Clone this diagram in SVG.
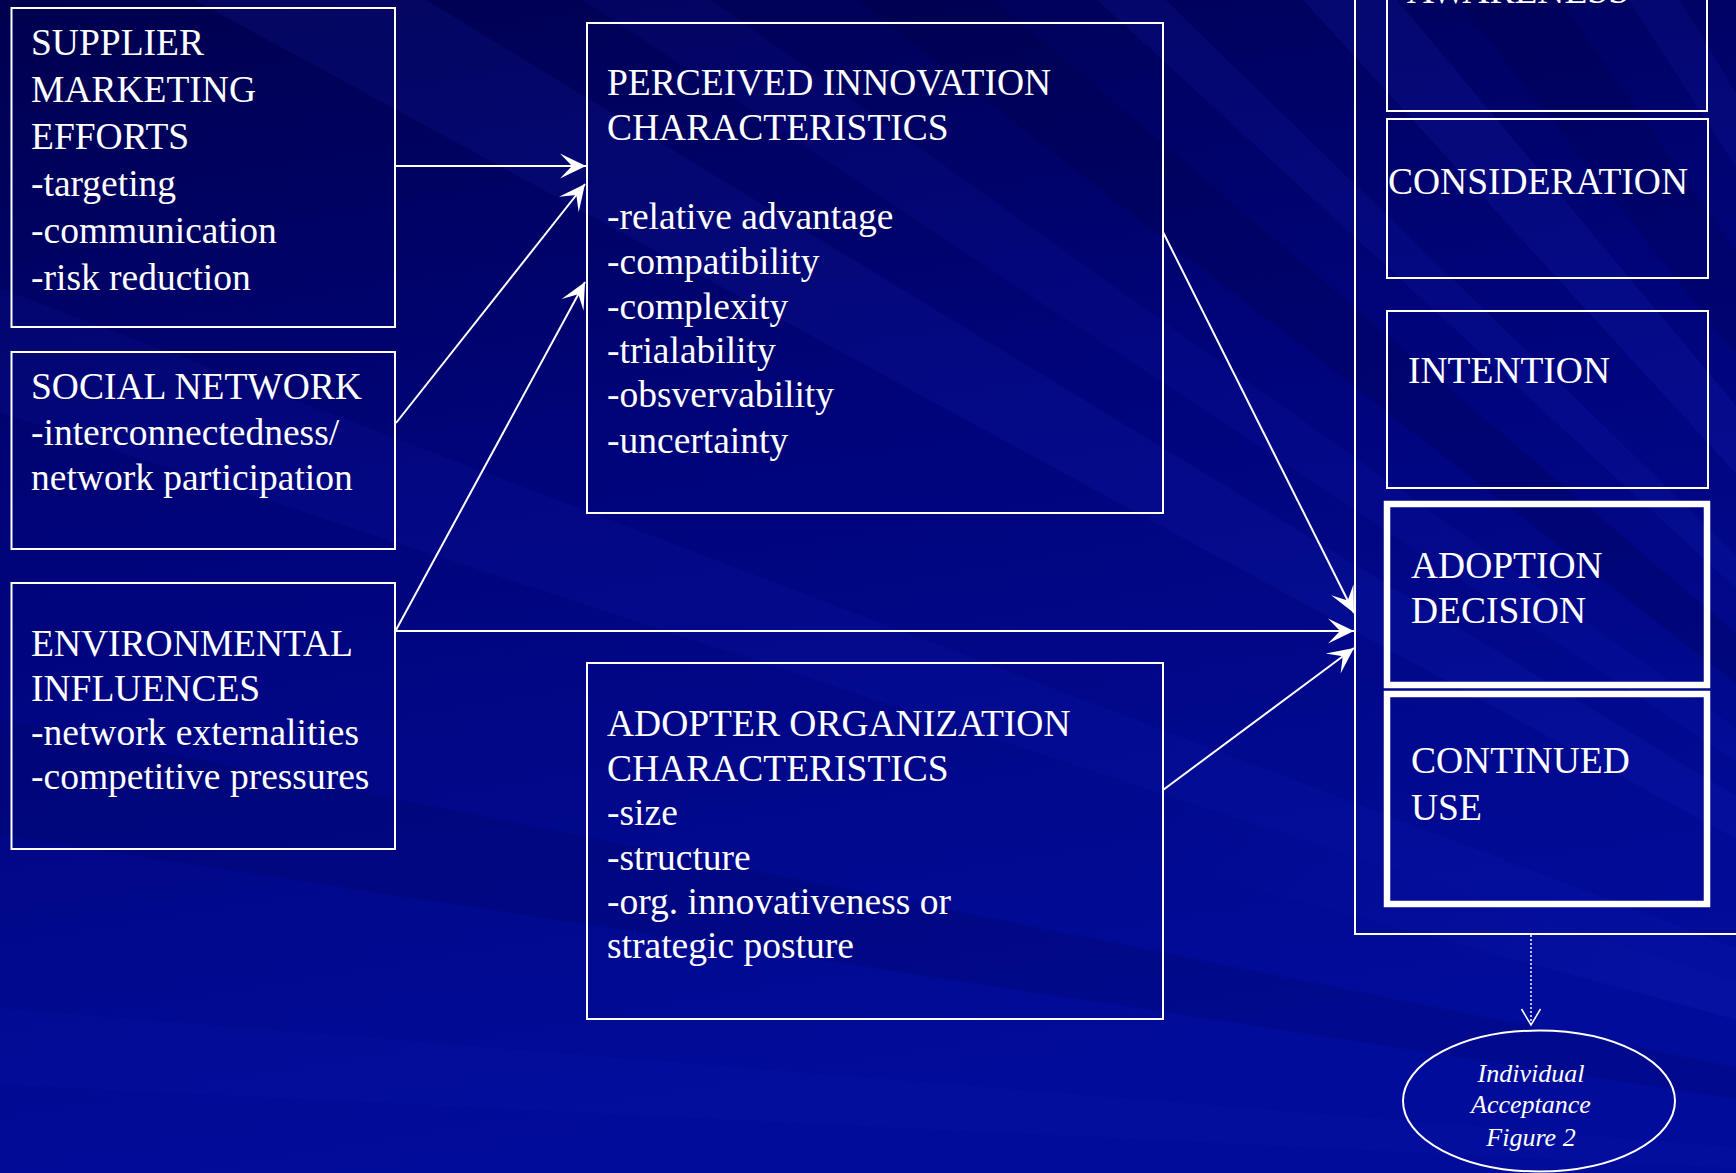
<svg xmlns="http://www.w3.org/2000/svg" width="1736" height="1173" viewBox="0 0 1736 1173">
  <defs>
    <linearGradient id="bg" x1="0" y1="0" x2="0.25" y2="1">
      <stop offset="0" stop-color="#00004e"/>
      <stop offset="0.45" stop-color="#00047a"/>
      <stop offset="1" stop-color="#020c9a"/>
    </linearGradient>
    <linearGradient id="fadeL" x1="0" y1="0" x2="1" y2="0">
      <stop offset="0" stop-color="#3a48ff" stop-opacity="0"/>
      <stop offset="0.6" stop-color="#3a48ff" stop-opacity="0.10"/>
      <stop offset="1" stop-color="#4a58ff" stop-opacity="0.22"/>
    </linearGradient>
    <marker id="ah" markerUnits="userSpaceOnUse" orient="auto" refX="0" refY="0" markerWidth="30" markerHeight="30" overflow="visible">
      <path d="M0,0 L-26,-12.5 L-14,0 L-26,12.5 Z" fill="#ffffff"/>
    </marker>
    <style>
      .box { fill: none; stroke: #ffffff; stroke-width: 2; }
      .thick { fill: none; stroke: #ffffff; stroke-width: 6.5; }
      .t { font-family: "Liberation Serif", "Times New Roman", serif; font-size: 37.5px; fill: #ffffff; }
      .it { font-family: "Liberation Serif", "Times New Roman", serif; font-size: 26px; font-style: italic; fill: #ffffff; text-anchor: middle; }
      .conn { stroke: #ffffff; stroke-width: 2; fill: none; marker-end: url(#ah); }
      .ray { fill: #2a38e0; }
      .dray { fill: #000030; }
    </style>
  </defs>

  <!-- background -->
  <g id="background">
    <rect x="0" y="0" width="1736" height="1173" fill="url(#bg)"/>
    <polygon class="ray" opacity="0.10" points="2400,1200 -100,-320 -100,-160"/>
    <polygon class="ray" opacity="0.08" points="2400,1200 280,-200 430,-200"/>
    <polygon class="dray" opacity="0.18" points="2400,1200 600,-200 760,-200"/>
    <polygon class="ray" opacity="0.10" points="2400,1200 880,-200 960,-200"/>
    <polygon class="ray" opacity="0.12" points="2400,1200 1120,-200 1230,-200"/>
    <polygon class="dray" opacity="0.15" points="2400,1200 1300,-200 1420,-200"/>
    <polygon class="ray" opacity="0.10" points="2400,1200 1500,-200 1560,-200"/>
    <polygon class="ray" opacity="0.08" points="2400,1200 -100,250 -100,380"/>
    <polygon class="dray" opacity="0.12" points="2400,1200 -100,700 -100,820"/>
    <polygon points="2400,1200 1150,790 1150,860" fill="url(#fadeL)"/>
    <polygon class="ray" opacity="0.06" points="2400,1200 -100,1000 -100,1080"/>
  </g>

  <!-- connectors -->
  <g id="connectors">
    <line class="conn" x1="395" y1="166" x2="586" y2="166"/>
    <line class="conn" x1="396" y1="423" x2="585" y2="184"/>
    <line class="conn" x1="396" y1="630" x2="585" y2="282"/>
    <line class="conn" x1="395" y1="631" x2="1354" y2="631"/>
    <line class="conn" x1="1163" y1="232" x2="1354" y2="613"/>
    <line class="conn" x1="1163" y1="790" x2="1354" y2="648"/>
    <line x1="1531" y1="935" x2="1531" y2="1024" stroke="#ffffff" stroke-width="1.5" stroke-dasharray="2,2"/>
    <polyline points="1521.5,1009 1531,1025 1540.5,1009" fill="none" stroke="#ffffff" stroke-width="1.5"/>
  </g>

  <!-- nodes -->
  <g id="supplier">
    <rect class="box" x="11.5" y="8" width="383.5" height="319"/>
    <text class="t" x="31" y="55">SUPPLIER</text>
    <text class="t" x="31" y="102">MARKETING</text>
    <text class="t" x="31" y="149">EFFORTS</text>
    <text class="t" x="31" y="196">-targeting</text>
    <text class="t" x="31" y="243">-communication</text>
    <text class="t" x="31" y="290">-risk reduction</text>
  </g>

  <g id="social">
    <rect class="box" x="11.5" y="352" width="383.5" height="197"/>
    <text class="t" x="31" y="399">SOCIAL NETWORK</text>
    <text class="t" x="31" y="445">-interconnectedness/</text>
    <text class="t" x="31" y="490">network participation</text>
  </g>

  <g id="environmental">
    <rect class="box" x="11.5" y="583" width="383.5" height="266"/>
    <text class="t" x="31" y="656">ENVIRONMENTAL</text>
    <text class="t" x="31" y="701">INFLUENCES</text>
    <text class="t" x="31" y="745">-network externalities</text>
    <text class="t" x="31" y="789">-competitive pressures</text>
  </g>

  <g id="perceived">
    <rect class="box" x="587" y="23" width="576" height="490"/>
    <text class="t" x="607" y="95">PERCEIVED INNOVATION</text>
    <text class="t" x="607" y="140">CHARACTERISTICS</text>
    <text class="t" x="607" y="229">-relative advantage</text>
    <text class="t" x="607" y="274">-compatibility</text>
    <text class="t" x="607" y="319">-complexity</text>
    <text class="t" x="607" y="363">-trialability</text>
    <text class="t" x="607" y="407">-obsvervability</text>
    <text class="t" x="607" y="453">-uncertainty</text>
  </g>

  <g id="adopter">
    <rect class="box" x="587" y="663" width="576" height="356"/>
    <text class="t" x="607" y="736">ADOPTER ORGANIZATION</text>
    <text class="t" x="607" y="781">CHARACTERISTICS</text>
    <text class="t" x="607" y="825">-size</text>
    <text class="t" x="607" y="870">-structure</text>
    <text class="t" x="607" y="914">-org. innovativeness or</text>
    <text class="t" x="607" y="958">strategic posture</text>
  </g>

  <g id="stages">
    <rect class="box" x="1355" y="-10" width="400" height="944"/>
  </g>

  <g id="awareness">
    <rect class="box" x="1387" y="-10" width="320" height="121"/>
    <text class="t" x="1407" y="3">AWARENESS</text>
  </g>

  <g id="consideration">
    <rect class="box" x="1387" y="119" width="321" height="159"/>
    <text class="t" x="1388" y="194">CONSIDERATION</text>
  </g>

  <g id="intention">
    <rect class="box" x="1387" y="311" width="321" height="177"/>
    <text class="t" x="1408" y="383">INTENTION</text>
  </g>

  <g id="adoption">
    <rect class="thick" x="1387" y="504" width="320" height="181"/>
    <text class="t" x="1411" y="578">ADOPTION</text>
    <text class="t" x="1411" y="623">DECISION</text>
  </g>

  <g id="continued">
    <rect class="thick" x="1387" y="694" width="320" height="210"/>
    <text class="t" x="1411" y="773">CONTINUED</text>
    <text class="t" x="1411" y="820">USE</text>
  </g>

  <g id="individual">
    <ellipse cx="1539" cy="1101" rx="136" ry="70.5" fill="none" stroke="#ffffff" stroke-width="2"/>
    <text class="it" x="1531" y="1082">Individual</text>
    <text class="it" x="1531" y="1113">Acceptance</text>
    <text class="it" x="1531" y="1146">Figure 2</text>
  </g>
</svg>
